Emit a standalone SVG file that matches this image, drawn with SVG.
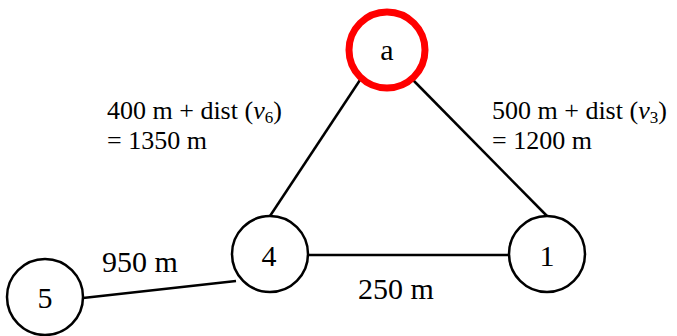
<svg xmlns="http://www.w3.org/2000/svg" width="677" height="336" viewBox="0 0 677 336">
<style>
.n{fill:#fff;stroke:#000;stroke-width:2.5}
.r{fill:#fff;stroke:#f00;stroke-width:7}
.e{stroke:#000;stroke-width:2.5;fill:none}
text{font-family:"Liberation Serif","Times New Roman",serif;font-size:30px;fill:#000}
.c{text-anchor:middle}
.d{font-size:26px}
</style>
<rect width="677" height="336" fill="#fff"/>
<g id="edges">
<line class="e" x1="360" y1="80" x2="270" y2="216"/>
<line class="e" x1="413" y1="80" x2="547" y2="216"/>
<line class="e" x1="308" y1="255" x2="509" y2="255"/>
<line class="e" x1="83" y1="298" x2="236" y2="281"/>
</g>
<g id="node-a"><circle class="r" cx="387" cy="50" r="38"/><text class="c" x="387" y="60">a</text></g>
<g id="node-4"><circle class="n" cx="270" cy="254" r="38"/><text class="c" x="269" y="266">4</text></g>
<g id="node-1"><circle class="n" cx="547" cy="254" r="38"/><text class="c" x="547" y="266">1</text></g>
<g id="node-5"><circle class="n" cx="45" cy="297" r="38"/><text class="c" x="45" y="308">5</text></g>
<g id="labels">
<text class="d" x="107" y="119">400 m + dist (<tspan font-style="italic">v</tspan><tspan font-size="17" dy="4">6</tspan><tspan dy="-4">)</tspan></text>
<text class="d" x="107" y="149">= 1350 m</text>
<text class="d" x="492" y="119">500 m + dist (<tspan font-style="italic">v</tspan><tspan font-size="17" dy="4">3</tspan><tspan dy="-4">)</tspan></text>
<text class="d" x="492" y="149">= 1200 m</text>
<text x="102" y="272">950 m</text>
<text x="358" y="299">250 m</text>
</g>
</svg>
